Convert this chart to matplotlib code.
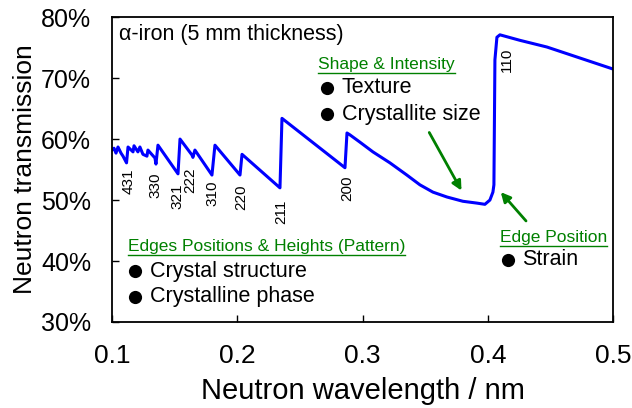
import matplotlib
matplotlib.use("Agg")
import matplotlib.pyplot as plt
from matplotlib.lines import Line2D
from matplotlib.ticker import FuncFormatter

plt.rcParams["font.family"] = ["Liberation Sans", "DejaVu Sans"]

# transmission spectrum, key points
wavelength = [
    0.1000, 0.1016, 0.1032, 0.1048, 0.1072, 0.1088, 0.1116, 0.1128,
    0.1168, 0.1176, 0.1207, 0.1223, 0.1247, 0.1279, 0.1287, 0.1343,
    0.1351, 0.1367, 0.1527, 0.1543, 0.1638, 0.1646, 0.1662, 0.1798,
    0.1822, 0.2022, 0.2038, 0.2341, 0.2357, 0.2860, 0.2876, 0.2899,
    0.2979, 0.3083, 0.3219, 0.3354, 0.3458, 0.3562, 0.3674, 0.3801,
    0.3913, 0.3977, 0.4017, 0.4041, 0.4049, 0.4057, 0.4073, 0.4097,
    0.4256, 0.4472, 0.4735, 0.4998,
]
transmission = [
    0.582, 0.585, 0.577, 0.587, 0.577, 0.572, 0.561, 0.587,
    0.579, 0.589, 0.579, 0.587, 0.575, 0.572, 0.582, 0.569,
    0.559, 0.590, 0.543, 0.600, 0.574, 0.570, 0.582, 0.541,
    0.590, 0.541, 0.575, 0.520, 0.634, 0.553, 0.610, 0.607,
    0.595, 0.579, 0.561, 0.541, 0.525, 0.513, 0.505, 0.498,
    0.495, 0.493, 0.500, 0.513, 0.525, 0.730, 0.767, 0.771,
    0.762, 0.751, 0.733, 0.715,
]

# Bragg edge labels
hkl_labels = ["431", "330", "321", "222", "310", "220", "211", "200", "110"]
hkl_x = [0.1136, 0.1347, 0.1523, 0.1626, 0.1802, 0.2030, 0.2349, 0.2880, 0.4156]
hkl_y = [0.531, 0.525, 0.507, 0.533, 0.511, 0.505, 0.480, 0.520, 0.730]

xticks = [0.1, 0.2, 0.3, 0.4, 0.5]
yticks = [0.3, 0.4, 0.5, 0.6, 0.7, 0.8]

GREEN = "#008000"

fig = plt.figure(figsize=(6.32, 4.08), dpi=100)
ax = fig.add_axes([0.1772, 0.2108, 0.7928, 0.7472])

ax.plot(wavelength, transmission, color="#0000FF", lw=2.2)

ax.set_xlim(0.1, 0.5)
ax.set_ylim(0.3, 0.8)
ax.set_xticks(xticks)
ax.set_yticks(yticks)
ax.yaxis.set_major_formatter(FuncFormatter(lambda v, p: f"{v * 100:.0f}%"))
ax.tick_params(direction="in", length=5, width=1)
ax.tick_params(axis="x", labelsize=19, pad=16)
ax.tick_params(axis="y", labelsize=18, pad=15)
for s in ax.spines.values():
    s.set_linewidth(1.3)
ax.set_xlabel("Neutron wavelength / nm", fontsize=21, labelpad=6)
ax.set_ylabel("Neutron transmission", fontsize=19, labelpad=3)

for lab, x, y in zip(hkl_labels, hkl_x, hkl_y):
    ax.text(x, y, lab, rotation=90, ha="center", va="center", fontsize=11)

ax.text(0.1056, 0.772, "α-iron (5 mm thickness)", fontsize=15.5, va="center")

# green headers, underlined below
headers = [
    ("Shape & Intensity", 0.2644, 0.723),
    ("Edges Positions & Heights (Pattern)", 0.1128, 0.4246),
    ("Edge Position", 0.4097, 0.439),
]
header_texts = [
    ax.text(x, y, t, color=GREEN, fontsize=12.5, va="center")
    for t, x, y in headers
]

# bullet items: (text, bullet x, text x, y)
bullets = [
    ("Texture", 0.2716, 0.2836, 0.684),
    ("Crystallite size", 0.2716, 0.2836, 0.641),
    ("Crystal structure", 0.1184, 0.1303, 0.3836),
    ("Crystalline phase", 0.1184, 0.1303, 0.341),
    ("Strain", 0.4160, 0.4272, 0.402),
]
for t, bx, tx, y in bullets:
    ax.plot(bx, y, "o", color="black", ms=9.5, mec="none")
    ax.text(tx, y, t, fontsize=15.5, va="center")

ax.annotate("", xy=(0.3801, 0.5115), xytext=(0.3522, 0.6148),
            arrowprops=dict(arrowstyle="-|>", color=GREEN, lw=2, mutation_scale=14))
ax.annotate("", xy=(0.4089, 0.5164), xytext=(0.4320, 0.4623),
            arrowprops=dict(arrowstyle="-|>", color=GREEN, lw=2, mutation_scale=14))

fig.canvas.draw()
renderer = fig.canvas.get_renderer()
for t in header_texts:
    bb = t.get_window_extent(renderer)
    y = bb.y0 - 1
    fig.add_artist(Line2D([bb.x0, bb.x1], [y, y], color=GREEN, lw=1,
                          transform=None))

fig.savefig("out.png", dpi=100)
